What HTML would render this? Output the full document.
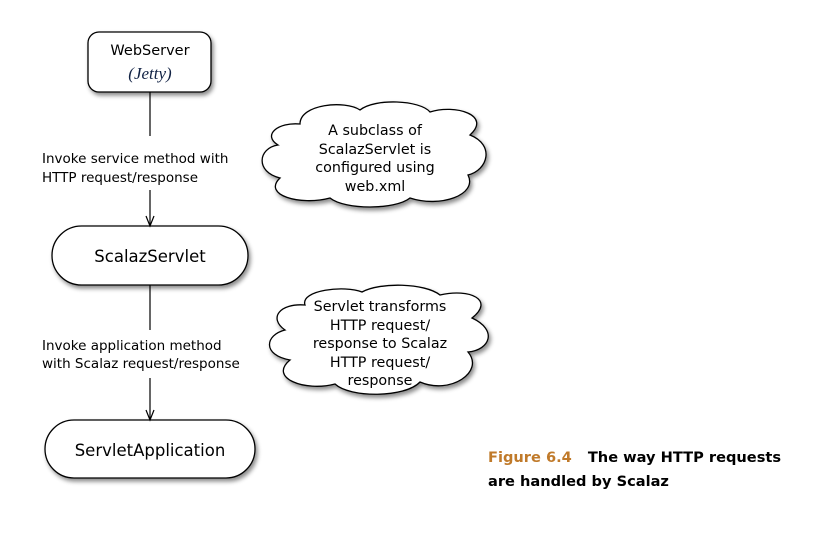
<!DOCTYPE html>
<html><head><meta charset="utf-8"><style>
html,body{margin:0;padding:0;background:#fff;}
svg{display:block}
text{font-family:"DejaVu Sans","Liberation Sans",sans-serif;}
</style></head><body>
<svg width="817" height="540" viewBox="0 0 817 540" xmlns="http://www.w3.org/2000/svg">
<defs>
<filter id="sh" x="-10%" y="-10%" width="130%" height="140%">
<feDropShadow dx="2" dy="3" stdDeviation="2" flood-color="#000" flood-opacity="0.45"/>
</filter>
</defs>
<g fill="#fff" stroke="#000" stroke-width="1.3" filter="url(#sh)">
<rect x="88" y="32" width="123" height="60" rx="11"/>
<rect x="52" y="226" width="196" height="59" rx="29.5"/>
<rect x="45" y="420" width="210" height="58" rx="29"/>
<path d="M300,124 C300,104 345,100 360,110 C375,98 420,100 430,112 C455,104 492,115 470,135 C495,145 488,170 468,175 C478,195 440,208 410,198 C395,210 345,210 330,198 C300,206 262,195 280,178 C255,172 258,148 278,145 C262,135 278,122 300,124 Z"/>
<path d="M305,305 C300,290 345,285 362,292 C380,282 425,283 440,295 C470,288 495,300 472,318 C498,330 490,350 468,352 C485,372 450,395 420,382 C405,398 350,398 335,384 C305,392 268,378 290,360 C262,355 265,335 285,330 C268,318 280,303 305,305 Z"/>
</g>
<g stroke="#000" stroke-width="1.2" fill="none">
<line x1="150" y1="92" x2="150" y2="136"/>
<line x1="150" y1="190" x2="150" y2="226"/>
<polyline points="146,216 150,226 154,216"/>
<line x1="150" y1="285" x2="150" y2="330"/>
<line x1="150" y1="378" x2="150" y2="420"/>
<polyline points="146,410 150,420 154,410"/>
</g>
<g font-size="14.5" fill="#000" text-anchor="middle">
<text x="150" y="55">WebServer</text>
<text x="150" y="79" style="font-family:'Liberation Serif',serif;font-style:italic;font-size:17px" fill="#112244">(Jetty)</text>
<text x="150" y="262" font-size="16.5">ScalazServlet</text>
<text x="150" y="456" font-size="16.5">ServletApplication</text>
<text x="375" y="135" font-size="14.3">A subclass of</text>
<text x="375" y="154" font-size="14.3">ScalazServlet is</text>
<text x="375" y="172" font-size="14.3">configured using</text>
<text x="375" y="191" font-size="14.3">web.xml</text>
<text x="380" y="311" font-size="14.3">Servlet transforms</text>
<text x="380" y="330" font-size="14.3">HTTP request/</text>
<text x="380" y="348" font-size="14.3">response to Scalaz</text>
<text x="380" y="367" font-size="14.3">HTTP request/</text>
<text x="380" y="385" font-size="14.3">response</text>
</g>
<g font-size="13.5" fill="#000">
<text x="42" y="163">Invoke service method with</text>
<text x="42" y="182">HTTP request/response</text>
<text x="42" y="350">Invoke application method</text>
<text x="42" y="368">with Scalaz request/response</text>
</g>
<g style="font-family:'Liberation Sans',sans-serif;font-weight:bold;font-size:14.6px">
<text x="488" y="462"><tspan fill="#c07a2a">Figure 6.4</tspan><tspan dx="16" fill="#000">The way HTTP requests</tspan></text>
<text x="488" y="486" fill="#000">are handled by Scalaz</text>
</g>
</svg>
</body></html>
